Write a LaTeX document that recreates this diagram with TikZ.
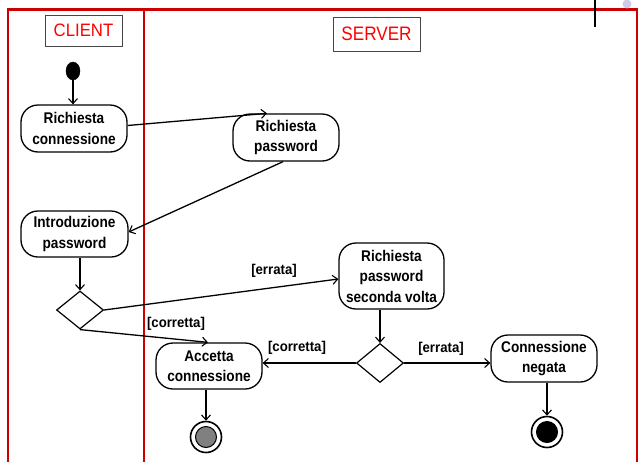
\documentclass[tikz,border=0pt]{standalone}
\usepackage{fontspec}
\usetikzlibrary{arrows.meta,shapes.geometric}
\newfontfamily\lanefont[FakeStretch=0.88]{Liberation Sans}
\newfontfamily\titlefont[FakeStretch=0.93]{Liberation Sans}
\newfontfamily\serverfont[FakeStretch=0.88]{Liberation Sans}
\definecolor{lanered}{RGB}{204,0,0}
\definecolor{titlered}{RGB}{255,0,0}
\definecolor{boxgray}{RGB}{70,70,70}
\definecolor{dotlav}{RGB}{205,205,232}
\tikzset{
  actbox/.style={draw, line width=1.3pt, rounded corners=17pt, align=center,
    minimum width=106pt, minimum height=47pt, inner sep=2pt,
    font={\lanefont\bfseries\fontsize{15.5}{20.5}\selectfont}},
  choice/.style={draw, diamond, line width=1.2pt, inner sep=0pt,
    minimum width=47pt, minimum height=38pt},
  lanetitle/.style={draw=boxgray, line width=1pt, text=titlered, inner sep=0pt},
  flow/.style={line width=1.3pt, -{Straight Barb[length=5pt,width=9pt,line width=1.1pt]}},
  thickflow/.style={line width=2.6pt, -{Straight Barb[length=5pt,width=9pt,line width=1.1pt]}},
  guard/.style={font={\titlefont\bfseries\fontsize{14.2}{17}\selectfont}, inner sep=1pt},
  endring/.style={draw, circle, line width=1.6pt, minimum size=31pt, inner sep=0pt}
}
\begin{document}
\begin{tikzpicture}[x=1pt, y=-1pt]
\useasboundingbox (0,0) rectangle (640,461);
\clip (0,0) rectangle (640,461);
\fill[white] (0,0) rectangle (640,461);

% swimlane frame
\draw[lanered, line width=2.4pt] (8,480) -- (8,9.5) -- (637,9.5) -- (637,480);
\draw[lanered, line width=2.4pt] (144,9.5) -- (144,480);

% marks along the top edge
\draw[black, line width=1.5pt] (595,0) -- (595,27);
\fill[dotlav] (627,4) circle (4.5);

% lane titles
\node[lanetitle, minimum width=77pt, minimum height=31pt,
  font={\titlefont\fontsize{18}{20}\selectfont}] (client) at (83.5,30.5) {CLIENT};
\node[lanetitle, minimum width=87pt, minimum height=34pt,
  font={\serverfont\fontsize{19.5}{22}\selectfont}] (server) at (376.5,34) {SERVER};

% activities
\node[draw, ellipse, fill=black, minimum width=14pt, minimum height=18pt, inner sep=0pt] (init) at (73,71) {};
\node[actbox] (rc) at (74,128.5) {Richiesta\\connessione};
\node[actbox] (rp) at (286,137.5) {Richiesta\\password};
\node[actbox, minimum width=107pt, minimum height=46pt] (ip) at (74.5,234) {Introduzione\\password};
\node[choice] (d1) at (80,310) {};
\node[actbox, minimum width=105pt, minimum height=66pt] (rpsv) at (391.5,276) {Richiesta\\password\\seconda volta};
\node[actbox, minimum height=46pt] (ac) at (209,366) {Accetta\\connessione};
\node[choice, minimum height=39pt] (d2) at (380,363) {};
\node[actbox] (cn) at (544,358.5) {Connessione\\negata};
\node[endring] (f1) at (206,437) {};
\node[endring] (f2) at (547,432) {};
\filldraw[fill=gray, draw=black, line width=1pt] (f1) circle (10.5);
\filldraw[fill=black, draw=black, line width=1pt] (f2) circle (10.5);

% transitions
\draw[flow] (init.south) -- (init.south |- rc.north);
\draw[flow] ([yshift=3pt]rc.east) -- ([xshift=-19pt]rp.north);
\draw[flow] ([xshift=-3pt]rp.south) -- ([yshift=2pt]ip.east);
\draw[flow] (d1.north |- ip.south) -- (d1.north);
\draw[flow] (d1.east) -- ([yshift=-3pt]rpsv.west);
\draw[flow] (d1.south) -- ([xshift=-1pt]ac.north);
\draw[flow] (d2.north |- rpsv.south) -- (d2.north);
\draw[thickflow] (d2.west) -- (d2.west -| ac.east);
\draw[thickflow] (d2.east) -- (d2.east -| cn.west);
\draw[flow] (f1.north |- ac.south) -- (f1.north);
\draw[flow] (f2.north |- cn.south) -- (f2.north);

% guards
\node[guard] (g1) at (274,271) {[errata]};
\node[guard] (g2) at (176,324) {[corretta]};
\node[guard] (g3) at (297,348) {[corretta]};
\node[guard] (g4) at (441,349) {[errata]};
\end{tikzpicture}
\end{document}
